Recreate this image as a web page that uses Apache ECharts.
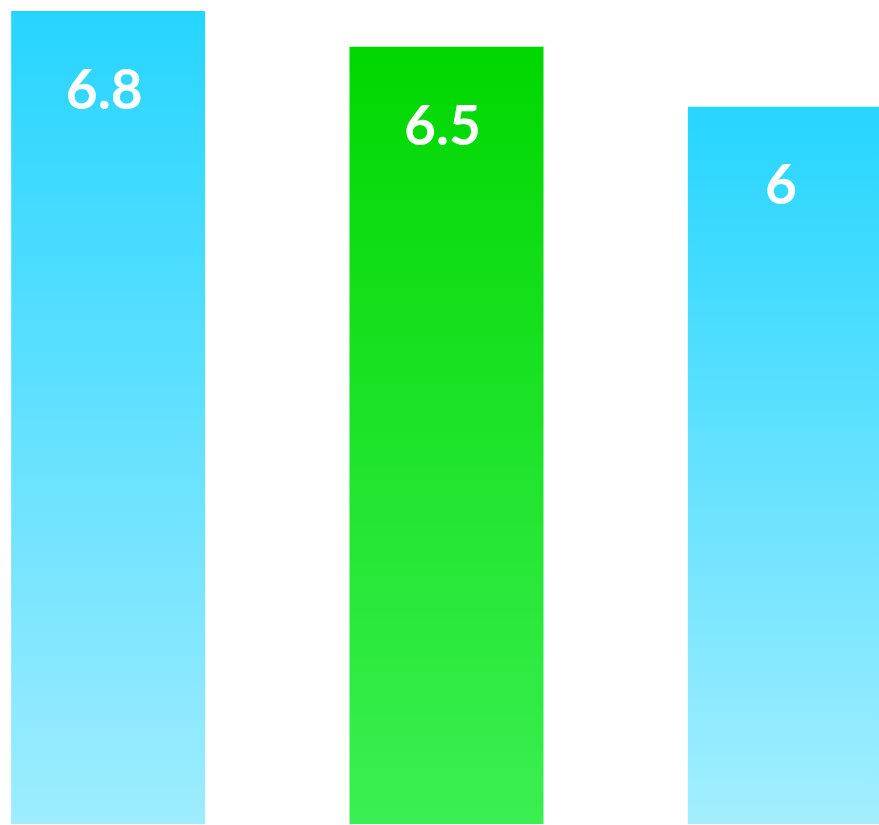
<!DOCTYPE html>
<html>
<head>
<meta charset="utf-8">
<style>
  html, body { margin: 0; padding: 0; background: #ffffff; }
  #chart { width: 879px; height: 825px; }
</style>
<script src="https://cdn.jsdelivr.net/npm/echarts@6/dist/echarts.min.js"></script>
</head>
<body>
<div id="chart"></div>
<script>
// Bar categories and values
const categories = ['A', 'B', 'C'];
const values = [6.8, 6.5, 6];
// Gradient stops per bar: [top colour, bottom colour]
const barColors = [
  ['#26d5ff', '#9eecff'],
  ['#00d700', '#3aef52'],
  ['#26d5ff', '#a2eeff']
];

const chart = echarts.init(document.getElementById('chart'), null, { renderer: 'canvas' });

const data = values.map((v, i) => ({
  value: v,
  itemStyle: {
    color: new echarts.graphic.LinearGradient(0, 0, 0, 1, [
      { offset: 0, color: barColors[i][0] },
      { offset: 1, color: barColors[i][1] }
    ])
  }
}));

chart.setOption({
  animation: false,
  backgroundColor: '#ffffff',
  // the plot area runs past both edges so the last bar is cut by the right border
  grid: { left: -61, right: -75, top: 11, bottom: 1, containLabel: false, outerBoundsMode: 'none' },
  xAxis: {
    type: 'category',
    data: categories,
    show: false
  },
  yAxis: {
    type: 'value',
    min: 0,
    max: 6.8,
    show: false,
    splitLine: { show: false }
  },
  series: [{
    type: 'bar',
    data: data,
    barWidth: 194,
    label: {
      show: true,
      position: ['50%', 80],
      offset: [-4, 0],
      align: 'center',
      verticalAlign: 'middle',
      color: '#ffffff',
      fontFamily: 'Lato',
      fontWeight: 'bold',
      fontSize: 55
    }
  }]
});
</script>
</body>
</html>
